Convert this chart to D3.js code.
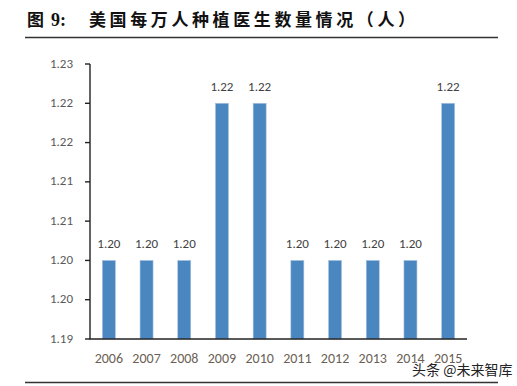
<html>
<head>
<meta charset="utf-8">
<script src="https://d3js.org/d3.v7.min.js"></script>
<style>
    body { margin: 0; background: #fff; }
    svg { display: block; font-family: Calibri, Carlito, "Liberation Sans", "Noto Sans", sans-serif; }
    .bar { fill: #4a86bf; stroke: #a9c4e2; stroke-width: 0.6px; }
    .ylab { font-size: 13px; fill: #595959; text-anchor: end; }
    .xlab { font-size: 14px; fill: #6b5f55; text-anchor: middle; }
    .vlab { font-size: 13px; fill: #404040; text-anchor: middle; }
    .axis { stroke: #222; stroke-width: 1.4px; }
    .rule { stroke: #333; stroke-width: 1.3px; }
</style>
</head>
<body>
<svg width=517 height=386></svg>

<script>
    // chart data
    let years = ['2006', '2007', '2008', '2009', '2010', '2011', '2012', '2013', '2014', '2015'];
    let values = [1.20, 1.20, 1.20, 1.22, 1.22, 1.20, 1.20, 1.20, 1.20, 1.22];
    let valueLabels = ['1.20', '1.20', '1.20', '1.22', '1.22', '1.20', '1.20', '1.20', '1.20', '1.22'];
    let yTicks = [1.19, 1.195, 1.20, 1.205, 1.21, 1.215, 1.22, 1.225];
    let yTickLabels = ['1.19', '1.20', '1.20', '1.21', '1.21', '1.22', '1.22', '1.23'];

    let svg = d3.select('svg');

    let x = d3.scaleBand()
        .domain(years)
        .range([90, 467])
        .paddingInner(0.655)
        .paddingOuter(0.3275);

    let y = d3.scaleLinear()
        .domain([1.19, 1.225])
        .range([339, 64]);

    // title
    svg.append('text')
        .attr('x', 27).attr('y', 26)
        .style('font-family', '"Noto Sans CJK SC", sans-serif')
        .style('font-weight', 'bold')
        .style('font-size', '17px')
        .attr('fill', '#111')
        .text('图');
    svg.append('text')
        .attr('x', 51).attr('y', 26)
        .style('font-family', '"Liberation Serif", serif')
        .style('font-weight', 'bold')
        .style('font-size', '18px')
        .attr('fill', '#111')
        .text('9:');
    svg.append('text')
        .attr('x', 89).attr('y', 26)
        .attr('textLength', 326)
        .attr('lengthAdjust', 'spacing')
        .style('font-family', '"Noto Sans CJK SC", sans-serif')
        .style('font-weight', 'bold')
        .style('font-size', '17px')
        .attr('fill', '#111')
        .text('美国每万人种植医生数量情况（人）');

    svg.append('line').attr('class', 'rule')
        .attr('x1', 25).attr('x2', 498).attr('y1', 37.5).attr('y2', 37.5);
    svg.append('line').attr('class', 'rule')
        .attr('x1', 25).attr('x2', 498).attr('y1', 382.5).attr('y2', 382.5);

    // bars
    svg.selectAll('rect.bar')
        .data(values)
        .enter().append('rect')
        .attr('class', 'bar')
        .attr('x', (d, i) => x(years[i]))
        .attr('width', x.bandwidth())
        .attr('y', d => y(d))
        .attr('height', d => y(1.19) - y(d));

    svg.selectAll('text.vlab')
        .data(values)
        .enter().append('text')
        .attr('class', 'vlab')
        .attr('x', (d, i) => x(years[i]) + x.bandwidth() / 2)
        .attr('y', d => y(d) - 12)
        .text((d, i) => valueLabels[i]);

    // y axis
    svg.append('line').attr('class', 'axis')
        .attr('x1', 90).attr('x2', 90).attr('y1', y(1.225)).attr('y2', y(1.19));
    svg.selectAll('line.ytick')
        .data(yTicks)
        .enter().append('line')
        .attr('class', 'axis')
        .attr('x1', 85).attr('x2', 90)
        .attr('y1', d => y(d)).attr('y2', d => y(d));
    svg.selectAll('text.ylab')
        .data(yTicks)
        .enter().append('text')
        .attr('class', 'ylab')
        .attr('x', 73)
        .attr('y', d => y(d) + 3.5)
        .text((d, i) => yTickLabels[i]);

    // x axis
    svg.append('line').attr('class', 'axis')
        .attr('x1', 89.3).attr('x2', 467).attr('y1', y(1.19)).attr('y2', y(1.19));
    svg.selectAll('text.xlab')
        .data(years)
        .enter().append('text')
        .attr('class', 'xlab')
        .attr('x', d => x(d) + x.bandwidth() / 2)
        .attr('y', 363)
        .text(d => d);

    // watermark
    svg.append('text')
        .attr('x', 412).attr('y', 375)
        .style('font-family', '"Noto Sans CJK SC", sans-serif')
        .style('font-size', '14px')
        .attr('fill', '#222')
        .attr('stroke', '#fff').attr('stroke-width', 2).attr('paint-order', 'stroke')
        .text('头条 @未来智库');
</script>
</body>
</html>
